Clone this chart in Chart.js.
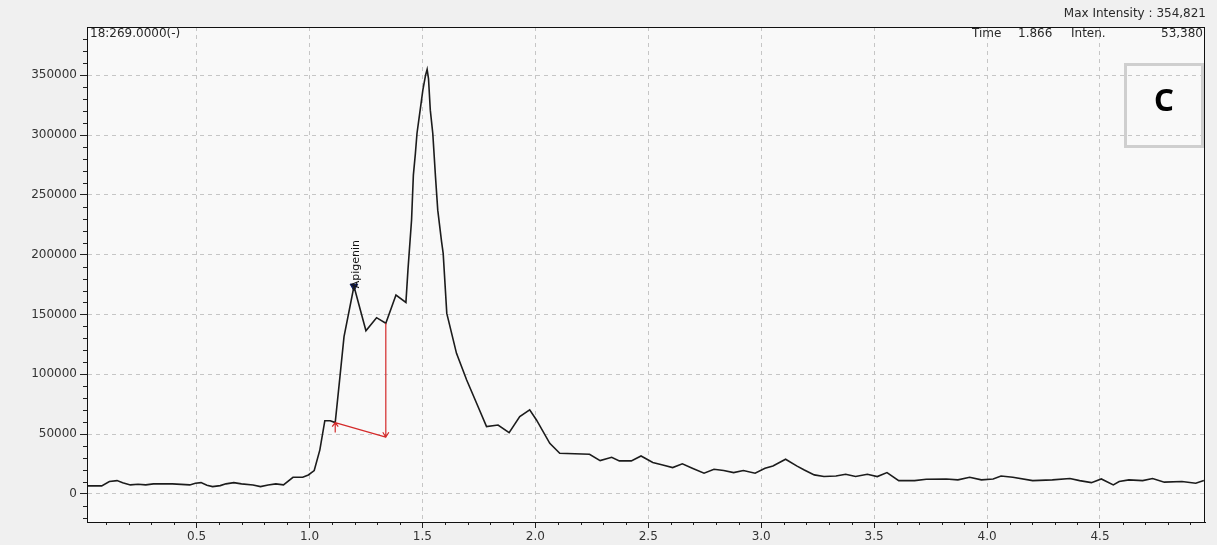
<!DOCTYPE html>
<html>
<head>
  <meta charset="utf-8" />
  <title>18:269.0000(-)</title>
  <script src="https://cdn.jsdelivr.net/npm/chart.js"></script>
  <style>
    html, body { margin: 0; padding: 0; background: #f0f0f0; }
    #chrom { display: block; }
  </style>
</head>
<body>
  <canvas id="chrom" width="1217" height="545"></canvas>

  <script>
  // retention time (min) and intensity of the m/z 269 trace
  const times = [
    0.017, 0.080, 0.114, 0.148, 0.173, 0.207, 0.241, 0.275, 0.309, 0.393,
    0.470, 0.495, 0.520, 0.546, 0.571, 0.605, 0.630, 0.665, 0.699, 0.750,
    0.783, 0.817, 0.851, 0.885, 0.927, 0.970, 0.995, 1.021, 1.046, 1.068,
    1.092, 1.114, 1.135, 1.153, 1.197, 1.250, 1.297, 1.338, 1.383, 1.427,
    1.436, 1.452, 1.460, 1.469, 1.476, 1.484, 1.495, 1.502, 1.514, 1.521,
    1.527, 1.535, 1.546, 1.558, 1.568, 1.585, 1.592, 1.608, 1.651, 1.696,
    1.740, 1.784, 1.835, 1.884, 1.931, 1.975, 2.005, 2.064, 2.108, 2.240,
    2.287, 2.338, 2.372, 2.425, 2.468, 2.520, 2.564, 2.608, 2.651, 2.695,
    2.747, 2.791, 2.834, 2.878, 2.921, 2.973, 3.017, 3.052, 3.108, 3.157,
    3.191, 3.235, 3.278, 3.331, 3.374, 3.418, 3.470, 3.514, 3.557, 3.609,
    3.679, 3.731, 3.819, 3.871, 3.923, 3.975, 4.027, 4.062, 4.114, 4.202,
    4.289, 4.367, 4.410, 4.462, 4.506, 4.559, 4.585, 4.628, 4.689, 4.733,
    4.785, 4.863, 4.924, 4.960
  ];
  const intens = [
    6700, 6700, 10300, 11100, 9400, 7500, 8000, 7500, 8400, 8400,
    7500, 8900, 9400, 7200, 6100, 6900, 8400, 9400, 8400, 7500,
    6100, 7500, 8400, 7500, 13900, 13900, 15800, 19500, 36800, 61200,
    61200, 59600, 98000, 131400, 173500, 136400, 147300, 142600, 166200, 160100,
    187100, 229000, 266500, 284600, 301300, 312400, 327700, 337500, 350000, 354821,
    347200, 320800, 301300, 265000, 237200, 210700, 201000, 150900, 117500, 95200,
    75800, 56200, 57600, 51200, 64600, 70200, 61800, 42300, 34000, 33100,
    27800, 30600, 27600, 27600, 31700, 26200, 24200, 22000, 25100, 21500,
    17300, 20600, 19500, 17800, 19500, 17300, 21500, 23400, 29000, 23400,
    20000, 15900, 14500, 15000, 16400, 14500, 16400, 14500, 17800, 11100,
    11100, 12300, 12500, 11700, 13900, 11700, 12500, 15000, 13900, 11100,
    11700, 12800, 11100, 9400, 12500, 7500, 10300, 11700, 11100, 12800,
    9800, 10300, 8900, 11100
  ];

  // labelled ticks
  const xTicks = [0.5, 1.0, 1.5, 2.0, 2.5, 3.0, 3.5, 4.0, 4.5];
  const yTicks = [0, 50000, 100000, 150000, 200000, 250000, 300000, 350000];

  const traceTitle = '18:269.0000(-)';
  const cursorTime = '1.866';
  const cursorInten = '53,380';
  const panelLetter = 'C';

  // identified peak
  const peakName = 'Apigenin';
  const peakIndex = times.indexOf(1.197);
  // integration baseline (start, end) and the drop line at the end
  const baseStart = [1.114, 59600];
  const baseEnd = [1.338, 47400];
  const dropTop = [1.338, 142600];

  const xRange = [0.015, 4.965];
  const yRange = [-23500, 390303];

  const font = '"DejaVu Sans", Verdana, sans-serif';
  const maxInten = Math.max(...intens);

  const decorations = {
    id: 'decorations',
    beforeDraw(chart) {
      const { ctx, chartArea: a } = chart;
      ctx.save();
      ctx.fillStyle = '#f0f0f0';
      ctx.fillRect(0, 0, chart.width, chart.height);
      ctx.fillStyle = '#f9f9f9';
      ctx.fillRect(a.left, a.top, a.right - a.left, a.bottom - a.top);
      ctx.restore();
    },
    afterDraw(chart) {
      const { ctx, chartArea: a, scales: { x, y } } = chart;
      ctx.save();

      // minor ticks
      ctx.strokeStyle = '#222';
      ctx.lineWidth = 1;
      ctx.beginPath();
      for (let i = 1; i < 50; i++) {
        if (i % 5 === 0) continue;
        const px = Math.round(x.getPixelForValue(i / 10)) + 0.5;
        ctx.moveTo(px, a.bottom);
        ctx.lineTo(px, a.bottom + 3);
      }
      for (let i = -2; i < 39; i++) {
        if (i % 5 === 0) continue;
        const py = Math.round(y.getPixelForValue(i * 10000)) + 0.5;
        ctx.moveTo(a.left - 4, py);
        ctx.lineTo(a.left, py);
      }
      ctx.stroke();

      // frame
      ctx.strokeStyle = '#111';
      ctx.strokeRect(a.left + 0.5, a.top + 0.5, a.right - a.left - 1, a.bottom - a.top);

      // header texts
      ctx.fillStyle = '#2a2a2a';
      ctx.font = '12px ' + font;
      ctx.textBaseline = 'middle';
      ctx.textAlign = 'right';
      ctx.fillText('Max Intensity : ' + maxInten.toLocaleString('en-US'), 1206, 14);
      ctx.fillText(cursorInten, a.right - 2, a.top + 7);
      ctx.textAlign = 'left';
      ctx.fillText('Time', 972, a.top + 7);
      ctx.fillText(cursorTime, 1018, a.top + 7);
      ctx.fillText('Inten.', 1071, a.top + 7);
      ctx.fillText(traceTitle, a.left + 3, a.top + 7);

      // panel letter box
      ctx.strokeStyle = '#cfcfcf';
      ctx.lineWidth = 3;
      ctx.strokeRect(1125.5, 64.5, 77, 82);
      ctx.fillStyle = '#000';
      ctx.font = 'bold 31px "Noto Sans", sans-serif';
      ctx.textAlign = 'center';
      ctx.fillText(panelLetter, 1164, 102);

      // baseline and drop line
      const s = { x: x.getPixelForValue(baseStart[0]), y: y.getPixelForValue(baseStart[1]) };
      const e = { x: x.getPixelForValue(baseEnd[0]), y: y.getPixelForValue(baseEnd[1]) };
      const t = { x: x.getPixelForValue(dropTop[0]), y: y.getPixelForValue(dropTop[1]) };
      ctx.strokeStyle = '#d42a2a';
      ctx.lineWidth = 1.2;
      ctx.beginPath();
      ctx.moveTo(s.x, s.y);
      ctx.lineTo(e.x, e.y);
      ctx.moveTo(t.x, t.y);
      ctx.lineTo(e.x, e.y);
      // start marker: up arrow
      ctx.moveTo(s.x, s.y + 10);
      ctx.lineTo(s.x, s.y);
      ctx.moveTo(s.x - 3, s.y + 4);
      ctx.lineTo(s.x, s.y);
      ctx.lineTo(s.x + 3, s.y + 4);
      // end marker: down arrow
      ctx.moveTo(e.x - 3, e.y - 5);
      ctx.lineTo(e.x, e.y);
      ctx.lineTo(e.x + 3, e.y - 5);
      ctx.stroke();

      // peak label
      const p = chart.getDatasetMeta(1).data[0];
      ctx.translate(p.x + 2, p.y + 2);
      ctx.rotate(-Math.PI / 2);
      ctx.fillStyle = '#111';
      ctx.font = '11px ' + font;
      ctx.textAlign = 'left';
      ctx.textBaseline = 'middle';
      ctx.fillText(peakName, 0, 0);
      ctx.restore();
    }
  };

  new Chart(document.getElementById('chrom'), {
    type: 'line',
    data: {
      datasets: [{
        data: times.map((t, i) => ({ x: t, y: intens[i] })),
        borderColor: '#1c1c1c',
        borderWidth: 1.6,
        pointRadius: 0,
        tension: 0
      }, {
        data: [{ x: times[peakIndex], y: intens[peakIndex] }],
        showLine: false,
        pointStyle: 'triangle',
        rotation: 180,
        pointRadius: 4.5,
        backgroundColor: '#0d1b5e',
        borderColor: '#0d1b5e'
      }]
    },
    options: {
      responsive: false,
      animation: false,
      devicePixelRatio: 1,
      layout: { padding: { top: 27, right: 12, left: 0, bottom: 0 } },
      plugins: { legend: { display: false }, tooltip: { enabled: false } },
      scales: {
        x: {
          type: 'linear',
          min: xRange[0],
          max: xRange[1],
          afterBuildTicks(s) { s.ticks = xTicks.map(v => ({ value: v })); },
          afterFit(s) { s.height = 23; },
          ticks: {
            autoSkip: false,
            maxRotation: 0,
            padding: 2,
            color: '#333',
            font: { family: font, size: 12 },
            callback: v => v.toFixed(1)
          },
          grid: { color: '#c6c6c6', tickColor: '#222', tickLength: 6 },
          border: { color: '#111', width: 1, dash: [4, 4] }
        },
        y: {
          type: 'linear',
          min: yRange[0],
          max: yRange[1],
          afterBuildTicks(s) { s.ticks = yTicks.map(v => ({ value: v })); },
          afterFit(s) { s.width = 87; },
          ticks: {
            autoSkip: false,
            padding: 3,
            color: '#333',
            font: { family: font, size: 12 },
            callback: v => String(v)
          },
          grid: { color: '#c6c6c6', tickColor: '#222', tickLength: 7 },
          border: { color: '#111', width: 1, dash: [4, 4] }
        }
      }
    },
    plugins: [decorations]
  });
  </script>
</body>
</html>
